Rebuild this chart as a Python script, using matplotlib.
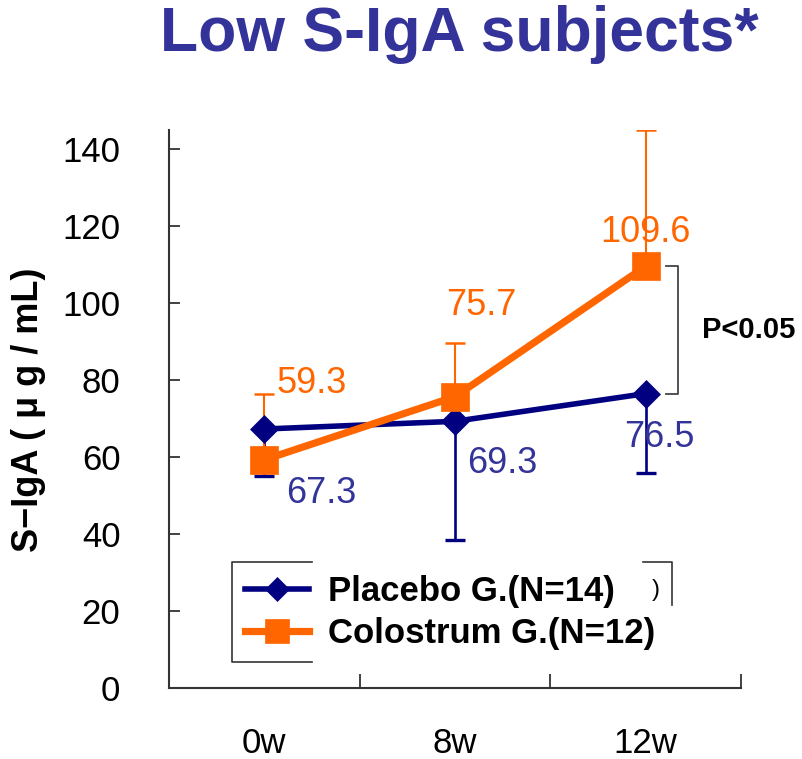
import matplotlib
matplotlib.use("Agg")
import matplotlib.pyplot as plt
from matplotlib.lines import Line2D

plt.rcParams['font.family'] = ['Liberation Sans', 'DejaVu Sans']

# ---- data ----
categories = ["0w", "8w", "12w"]
placebo = [67.3, 69.3, 76.5]
placebo_err_low = [12.3, 30.9, 20.7]
colostrum = [59.3, 75.7, 109.6]
colostrum_err_high = [17.1, 13.9, 35.4]
yticks = [0, 20, 40, 60, 80, 100, 120, 140]
placebo_label = "Placebo G.(N=14)"
colostrum_label = "Colostrum G.(N=12)"
title = "Low S-IgA subjects*"
ylabel = "S\u2212IgA ( \u03bc g / mL)"
p_text = "P<0.05"

NAVY = "#000080"
NAVY_TXT = "#333399"
ORANGE = "#FF6600"

W, H = 803, 759
fig = plt.figure(figsize=(W / 100, H / 100), dpi=100)
ax = fig.add_axes([169 / W, 1 - 688 / H, (741 - 169) / W, (688 - 130) / H])

x = list(range(len(categories)))

# error bars (one-sided)
ax.errorbar(x, placebo, yerr=[placebo_err_low, [0] * 3], fmt='none',
            ecolor=NAVY, elinewidth=1.9, capsize=7, capthick=2.4, zorder=2)
ax.errorbar(x, colostrum, yerr=[[0] * 3, colostrum_err_high], fmt='none',
            ecolor=ORANGE, elinewidth=1.5, capsize=7, capthick=1.8, zorder=2)

lp, = ax.plot(x, placebo, color=NAVY, lw=4.0, marker='D', ms=14,
              mec=NAVY, mew=0.5, zorder=3, label=placebo_label)
lc, = ax.plot(x, colostrum, color=ORANGE, lw=5.2, marker='s', ms=19.5,
              mec=ORANGE, mew=0.5, zorder=4, label=colostrum_label)

# value labels
p_offsets = [(0.30, 50.5), (1.25, 58.4), (2.07, 65.2)]
c_offsets = [(0.25, 79.2), (1.14, 99.5), (2.0, 118.4)]
for (tx, ty), v in zip(p_offsets, placebo):
    ax.text(tx, ty, f"{v:.1f}", color=NAVY_TXT, fontsize=26,
            ha='center', va='center', zorder=5)
for (tx, ty), v in zip(c_offsets, colostrum):
    ax.text(tx, ty, f"{v:.1f}", color=ORANGE, fontsize=26,
            ha='center', va='center', zorder=5)

# significance bracket
bx0, bx1 = 2.105, 2.168
ax.plot([bx0, bx1, bx1, bx0], [colostrum[2], colostrum[2], placebo[2], placebo[2]],
        color="#444444", lw=1.3, clip_on=False, zorder=1)
ax.text(2.295, (colostrum[2] + placebo[2]) / 2, p_text, fontsize=21,
        fontweight='bold', ha='left', va='center', clip_on=False)

# axes styling
ax.set_xlim(-0.5, 2.5)
ax.set_ylim(0, 145)
ax.set_yticks(yticks)
ax.set_yticklabels([str(t) for t in yticks], fontsize=25)
ax.set_xticks([-0.5, 0.5, 1.5, 2.5])
ax.set_xticklabels([])
ax.set_xticks(x, minor=True)
ax.set_xticklabels(categories, minor=True, fontsize=25)
ax.tick_params(axis='x', which='major', direction='in', length=10, width=1.3, color="#333333")
ax.tick_params(axis='x', which='minor', length=0, pad=28)
ax.tick_params(axis='y', direction='in', length=8, width=1.3, color="#333333", pad=35)
for s in ['top', 'right']:
    ax.spines[s].set_visible(False)
for s in ['left', 'bottom']:
    ax.spines[s].set_color("#333333")
    ax.spines[s].set_linewidth(1.5)

ax.set_ylabel(ylabel, fontsize=26, fontweight='bold')
ax.yaxis.set_label_coords(-(169 - 46) / (741 - 169), (688 - 410) / (688 - 130))

fig.text(459 / W, 1 - 34 / H, title, fontsize=45, fontweight='bold',
         color=NAVY_TXT, ha='center', va='center')

# legend
leg = ax.legend(handles=[lp, lc], loc='upper left',
                bbox_to_anchor=(245 / W, 1 - 575 / H), bbox_transform=fig.transFigure,
                frameon=False, prop={'size': 25, 'weight': 'bold'},
                handlelength=1.85, handletextpad=0.55, borderpad=0,
                borderaxespad=0, labelspacing=0.25, markerscale=0.9)

# partial legend frame
def fl(xs, ys):
    fig.add_artist(Line2D([v / W for v in xs], [1 - v / H for v in ys],
                          color="#333333", lw=1.2, transform=fig.transFigure))
fl([312, 232, 232, 312], [562, 562, 662, 662])
fl([643, 672, 672], [562, 562, 605])
fig.text(656 / W, 1 - 590 / H, ")", fontsize=17, ha='center', va='center')

fig.savefig("out.png", dpi=100)
